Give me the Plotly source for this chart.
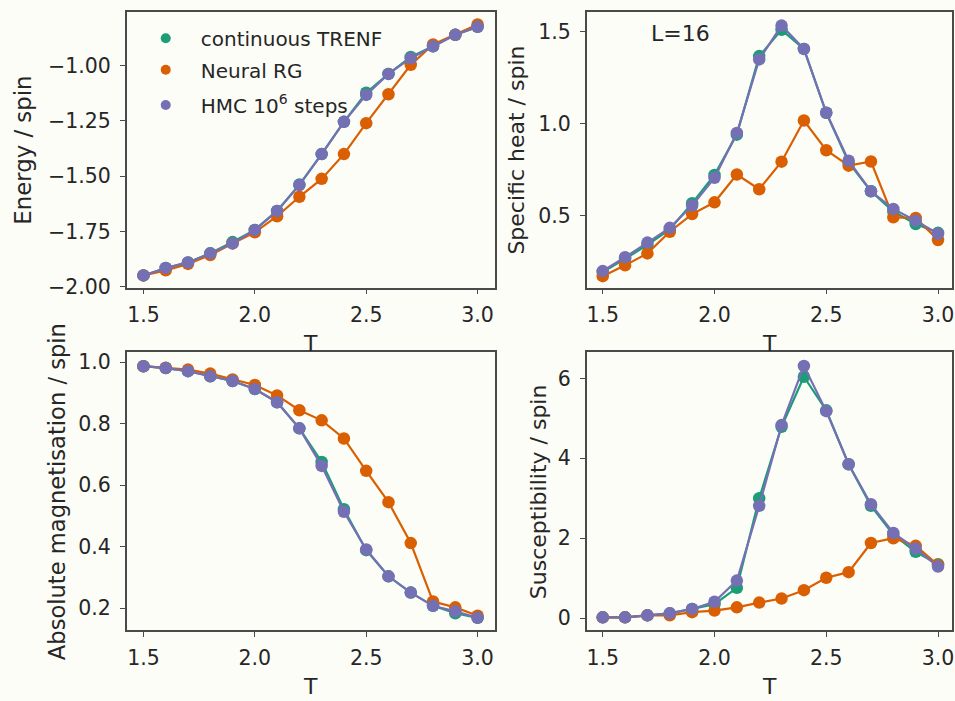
import plotly.graph_objects as go

# Temperatures (same grid for all panels)
T = [1.5, 1.6, 1.7, 1.8, 1.9, 2.0, 2.1, 2.2, 2.3, 2.4, 2.5, 2.6, 2.7, 2.8, 2.9, 3.0]

# Energy per spin
energy_trenf = [-1.949, -1.915, -1.890, -1.849, -1.798, -1.743, -1.657, -1.538, -1.400, -1.254, -1.122, -1.037, -0.960, -0.912, -0.860, -0.824]
energy_nrg = [-1.949, -1.926, -1.897, -1.857, -1.804, -1.754, -1.681, -1.593, -1.512, -1.400, -1.260, -1.129, -0.996, -0.904, -0.860, -0.813]
energy_hmc = [-1.949, -1.915, -1.890, -1.849, -1.804, -1.743, -1.657, -1.540, -1.400, -1.254, -1.132, -1.037, -0.966, -0.912, -0.860, -0.824]

# Specific heat per spin
heat_trenf = [0.194, 0.265, 0.342, 0.425, 0.568, 0.722, 0.941, 1.368, 1.511, 1.407, 1.060, 0.790, 0.633, 0.523, 0.455, 0.407]
heat_nrg = [0.171, 0.230, 0.295, 0.413, 0.509, 0.573, 0.724, 0.644, 0.794, 1.018, 0.856, 0.772, 0.795, 0.491, 0.488, 0.368]
heat_hmc = [0.199, 0.274, 0.354, 0.434, 0.555, 0.706, 0.950, 1.350, 1.534, 1.407, 1.060, 0.799, 0.633, 0.537, 0.473, 0.402]

# Absolute magnetisation per spin
mag_trenf = [0.987, 0.981, 0.971, 0.954, 0.939, 0.913, 0.870, 0.785, 0.676, 0.522, 0.389, 0.304, 0.251, 0.208, 0.184, 0.169]
mag_nrg = [0.987, 0.982, 0.976, 0.963, 0.944, 0.926, 0.892, 0.844, 0.811, 0.752, 0.647, 0.545, 0.412, 0.222, 0.203, 0.176]
mag_hmc = [0.987, 0.981, 0.971, 0.954, 0.939, 0.913, 0.870, 0.785, 0.663, 0.514, 0.391, 0.304, 0.251, 0.208, 0.190, 0.169]

# Susceptibility per spin
sus_trenf = [0.02, 0.02, 0.07, 0.12, 0.23, 0.35, 0.76, 3.00, 4.79, 6.04, 5.20, 3.85, 2.81, 2.09, 1.66, 1.35]
sus_nrg = [0.02, 0.02, 0.07, 0.07, 0.15, 0.19, 0.27, 0.39, 0.49, 0.70, 1.01, 1.15, 1.88, 2.00, 1.81, 1.33]
sus_hmc = [0.02, 0.02, 0.07, 0.12, 0.23, 0.41, 0.94, 2.81, 4.83, 6.31, 5.18, 3.85, 2.85, 2.13, 1.74, 1.29]

series_names = ["continuous TRENF", "Neural RG", "HMC 10<sup>6</sup> steps"]
colors = ["#1b9e77", "#d95f02", "#7570b3"]

x_ticks = [1.5, 2.0, 2.5, 3.0]
energy_ticks = [-2.00, -1.75, -1.50, -1.25, -1.00]
heat_ticks = [0.5, 1.0, 1.5]
mag_ticks = [0.2, 0.4, 0.6, 0.8, 1.0]
sus_ticks = [0, 2, 4, 6]

W, H = 955, 701
BG = "#fdfdf8"
FONT = "DejaVu Sans"
TXT = "#262626"


def fx(px):
    return px / W


def fy(py):
    return 1 - py / H


fig = go.Figure()

panels = [
    # (xaxis, yaxis, data, x px span, y px span, x range, y range, y ticks, y fmt,
    #  y title, title x px, title size)
    ("x", "y", (energy_trenf, energy_nrg, energy_hmc), (127, 496), (10, 291),
     [1.425, 3.078], [-2.004, -0.756], energy_ticks, ".2f", "Energy / spin", 23, 22.8),
    ("x2", "y2", (heat_trenf, heat_nrg, heat_hmc), (588, 954), (10, 291),
     [1.4286, 3.0625], [0.109, 1.609], heat_ticks, ".1f", "Specific heat / spin", 518, 22),
    ("x3", "y3", (mag_trenf, mag_nrg, mag_hmc), (127, 496), (357, 640),
     [1.425, 3.078], [0.129, 1.032], mag_ticks, ".1f", "Absolute magnetisation / spin", 57, 22.6),
    ("x4", "y4", (sus_trenf, sus_nrg, sus_hmc), (588, 954), (357, 640),
     [1.4286, 3.0625], [-0.30, 6.65], sus_ticks, "d", "Susceptibility / spin", 539, 22),
]

legend_names = ["legend", "legend2", "legend3"]
annotations = []

for i, (xa, ya, data, xs, ys, xr, yr, yt, yf, ytitle, tx, tsize) in enumerate(panels):
    for k, vals in enumerate(data):
        fig.add_trace(go.Scatter(
            x=T, y=vals, mode="lines+markers", name=series_names[k],
            xaxis=xa, yaxis=ya,
            line=dict(color=colors[k], width=2.2),
            marker=dict(color=colors[k], size=12.5),
            showlegend=False,
        ))
    xkey = "xaxis" if xa == "x" else "xaxis" + xa[1:]
    ykey = "yaxis" if ya == "y" else "yaxis" + ya[1:]
    axis_common = dict(
        showgrid=False, zeroline=False, showline=True, mirror=True,
        linecolor="#4a4a4a", linewidth=1.6,
        ticks="outside", ticklen=5, tickwidth=1.4, tickcolor="#4a4a4a",
        tickfont=dict(family=FONT, size=20.5, color=TXT),
        ticklabeloverflow="allow",
    )
    fig.layout[xkey] = dict(
        domain=[fx(xs[0]), fx(xs[1])], range=xr, anchor=ya,
        tickvals=x_ticks, tickformat=".1f", ticklabelstandoff=3, **axis_common)
    fig.layout[ykey] = dict(
        domain=[fy(ys[1]), fy(ys[0])], range=yr, anchor=xa,
        tickvals=yt, tickformat=yf, ticklabelstandoff=5, **axis_common)
    annotations.append(dict(
        text=ytitle, x=fx(tx), y=fy((ys[0] + ys[1]) / 2), xref="paper", yref="paper",
        textangle=-90, showarrow=False, xanchor="center", yanchor="middle",
        font=dict(family=FONT, size=tsize, color=TXT)))
    annotations.append(dict(
        text="T", x=fx((xs[0] + xs[1]) / 2), y=fy(ys[1] + 57), xref="paper", yref="paper",
        showarrow=False, xanchor="center", yanchor="middle",
        font=dict(family=FONT, size=22, color=TXT)))

annotations.append(dict(
    text="L=16", x=fx(682), y=fy(32), xref="paper", yref="paper",
    showarrow=False, xanchor="center", yanchor="middle",
    font=dict(family=FONT, size=22, color=TXT)))

# Legend entries show the marker only, one legend per row
for k in range(3):
    fig.add_trace(go.Scatter(
        x=[None], y=[None], mode="markers", name=series_names[k],
        xaxis="x", yaxis="y", marker=dict(color=colors[k], size=10),
        showlegend=True, legend=legend_names[k], hoverinfo="skip",
    ))

legend_rows = [37, 69, 105]
legend_style = dict(
    bgcolor="rgba(0,0,0,0)", borderwidth=0, itemwidth=60,
    font=dict(family=FONT, size=20, color=TXT),
    xanchor="left", yanchor="middle",
)
layout_legends = {}
for name, row in zip(legend_names, legend_rows):
    layout_legends[name] = dict(x=fx(131), y=fy(row), **legend_style)

fig.update_layout(
    width=W, height=H, margin=dict(l=0, r=0, t=0, b=0),
    paper_bgcolor=BG, plot_bgcolor=BG,
    annotations=annotations, **layout_legends,
)

fig.write_html("out.html")
